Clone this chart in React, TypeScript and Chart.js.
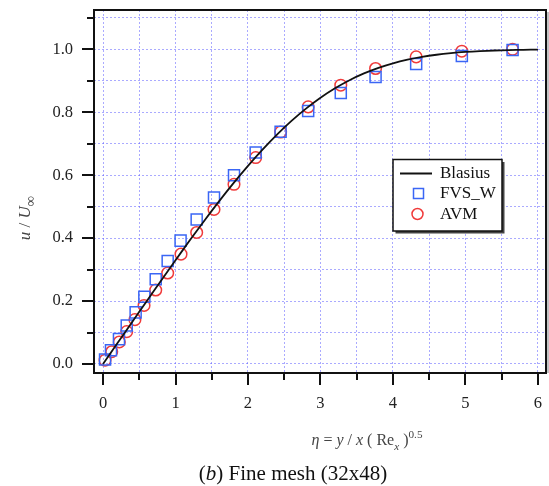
import React, { useEffect, useRef } from 'react';
import { Chart, registerables } from 'chart.js';

Chart.register(...registerables);

// ---- data ----
const blasiusEta = [0, 0.2, 0.4, 0.6, 0.8, 1.0, 1.2, 1.4, 1.6, 1.8, 2.0, 2.2, 2.4, 2.6, 2.8, 3.0, 3.2, 3.4, 3.6, 3.8, 4.0, 4.2, 4.4, 4.6, 4.8, 5.0, 5.2, 5.4, 5.6, 5.8, 6.0];
const blasiusU = [0, 0.06641, 0.13277, 0.19894, 0.26471, 0.32979, 0.39378, 0.45627, 0.51676, 0.57477, 0.62977, 0.68132, 0.72899, 0.77246, 0.81152, 0.84605, 0.87609, 0.90177, 0.92333, 0.94112, 0.95552, 0.96696, 0.97587, 0.98269, 0.98779, 0.99155, 0.99425, 0.99616, 0.99748, 0.99838, 0.99898];

const fvsEta = [0.028, 0.11, 0.22, 0.327, 0.45, 0.57, 0.727, 0.892, 1.07, 1.292, 1.531, 1.807, 2.106, 2.45, 2.83, 3.28, 3.76, 4.32, 4.95, 5.65];
const fvsU = [0.014, 0.044, 0.079, 0.122, 0.164, 0.214, 0.269, 0.327, 0.392, 0.459, 0.529, 0.6, 0.672, 0.738, 0.804, 0.861, 0.912, 0.953, 0.979, 0.998];

const avmEta = [0.028, 0.12, 0.225, 0.327, 0.44, 0.566, 0.727, 0.892, 1.076, 1.292, 1.531, 1.807, 2.106, 2.45, 2.83, 3.28, 3.76, 4.32, 4.95, 5.65];
const avmU = [0.012, 0.039, 0.07, 0.103, 0.141, 0.186, 0.235, 0.289, 0.349, 0.418, 0.491, 0.571, 0.656, 0.737, 0.817, 0.886, 0.939, 0.976, 0.994, 1.0];

const xTickValues = [0, 0.5, 1, 1.5, 2, 2.5, 3, 3.5, 4, 4.5, 5, 5.5, 6];
const xTickLabels = ['0', '', '1', '', '2', '', '3', '', '4', '', '5', '', '6'];
const yTickValues = [0, 0.1, 0.2, 0.3, 0.4, 0.5, 0.6, 0.7, 0.8, 0.9, 1.0, 1.1];
const yTickLabels = ['0.0', '', '0.2', '', '0.4', '', '0.6', '', '0.8', '', '1.0', ''];

const seriesNames = ['Blasius', 'FVS_W', 'AVM'];

const FAMILY = "'Liberation Serif', 'Times New Roman', serif";

type Run = { t: string; it?: boolean; sub?: boolean; sup?: boolean; scale?: number };

function drawRuns(ctx: CanvasRenderingContext2D, runs: Run[], cx: number, baseY: number, size: number, color: string) {
  const sz = (r: Run) => (r.sub || r.sup ? size * (r.scale || 0.7) : size);
  const fontFor = (r: Run) => `${r.it ? 'italic ' : ''}${sz(r)}px ${FAMILY}`;
  let total = 0;
  runs.forEach((r) => {
    ctx.font = fontFor(r);
    total += ctx.measureText(r.t).width;
  });
  let x = cx - total / 2;
  ctx.fillStyle = color;
  ctx.textAlign = 'left';
  ctx.textBaseline = 'alphabetic';
  runs.forEach((r) => {
    ctx.font = fontFor(r);
    const dy = r.sub ? size * 0.3 : r.sup ? -size * 0.45 : 0;
    ctx.fillText(r.t, x, baseY + dy);
    x += ctx.measureText(r.t).width;
  });
}

const decorPlugin = {
  id: 'decor',
  afterDraw(chart: any) {
    const { ctx, chartArea: a, scales } = chart;
    const xs = scales.x;
    const ys = scales.y;
    ctx.save();
    // tick marks
    ctx.strokeStyle = '#111';
    ctx.lineWidth = 2;
    ctx.setLineDash([]);
    xTickValues.forEach((v, i) => {
      const px = Math.round(xs.getPixelForValue(v));
      const len = xTickLabels[i] ? 12 : 7;
      ctx.beginPath();
      ctx.moveTo(px, a.bottom);
      ctx.lineTo(px, a.bottom + len);
      ctx.stroke();
    });
    yTickValues.forEach((v, i) => {
      const py = Math.round(ys.getPixelForValue(v));
      const len = yTickLabels[i] ? 12 : 7;
      ctx.beginPath();
      ctx.moveTo(a.left, py);
      ctx.lineTo(a.left - len, py);
      ctx.stroke();
    });
    // plot frame
    ctx.strokeStyle = '#888';
    ctx.lineWidth = 1;
    ctx.beginPath();
    ctx.moveTo(a.right + 2, a.top + 2);
    ctx.lineTo(a.right + 2, a.bottom);
    ctx.stroke();
    ctx.strokeStyle = '#111';
    ctx.lineWidth = 2;
    ctx.strokeRect(a.left, a.top, a.right - a.left, a.bottom - a.top);

    // legend
    const lx = 393, ly = 159.5, lw = 109, lh = 71.5;
    ctx.fillStyle = '#444';
    ctx.fillRect(lx + 2.5, ly + 2.5, lw, lh);
    ctx.fillStyle = '#fff';
    ctx.fillRect(lx, ly, lw, lh);
    ctx.strokeStyle = '#111';
    ctx.lineWidth = 1.5;
    ctx.strokeRect(lx, ly, lw, lh);
    const ds = chart.data.datasets;
    ctx.strokeStyle = ds[0].borderColor;
    ctx.lineWidth = 2;
    ctx.beginPath();
    ctx.moveTo(400, 173.5);
    ctx.lineTo(432, 173.5);
    ctx.stroke();
    ctx.strokeStyle = ds[1].borderColor;
    ctx.lineWidth = 1.5;
    ctx.strokeRect(413.5, 188.5, 10, 10);
    ctx.strokeStyle = ds[2].borderColor;
    ctx.beginPath();
    ctx.arc(417.5, 214, 5.5, 0, Math.PI * 2);
    ctx.stroke();
    ctx.fillStyle = '#111';
    ctx.font = `17px ${FAMILY}`;
    ctx.textAlign = 'left';
    ctx.textBaseline = 'middle';
    ctx.fillText(seriesNames[0], 440, 173.5);
    ctx.fillText(seriesNames[1], 440, 194);
    ctx.fillText(seriesNames[2], 440, 214.5);

    // x-axis title
    drawRuns(ctx, [
      { t: 'η', it: true },
      { t: ' = ' },
      { t: 'y', it: true },
      { t: ' / ' },
      { t: 'x', it: true },
      { t: ' ( Re' },
      { t: 'x', it: true, sub: true },
      { t: ' )' },
      { t: '0.5', sup: true },
    ], 367, 445, 16, '#444');

    // y-axis title
    ctx.save();
    ctx.translate(24, 218);
    ctx.rotate(-Math.PI / 2);
    drawRuns(ctx, [
      { t: 'u', it: true },
      { t: ' / ' },
      { t: 'U', it: true },
      { t: '∞', sub: true, scale: 0.85 },
    ], 0, 6, 17, '#444');
    ctx.restore();

    // caption
    drawRuns(ctx, [
      { t: '(' },
      { t: 'b', it: true },
      { t: ') Fine mesh (32x48)' },
    ], 293, 480, 21, '#111');
    ctx.restore();
  },
};

export default function App() {
  const ref = useRef<HTMLCanvasElement | null>(null);
  useEffect(() => {
    if (!ref.current) return;
    const gridColor = 'rgba(100,100,255,0.55)';
    const chart = new Chart(ref.current, {
      type: 'scatter',
      data: {
        datasets: [
          {
            label: seriesNames[0],
            data: blasiusEta.map((e, i) => ({ x: e, y: blasiusU[i] })),
            showLine: true,
            borderColor: '#111',
            borderWidth: 1.8,
            pointRadius: 0,
            tension: 0.3,
          },
          {
            label: seriesNames[1],
            data: fvsEta.map((e, i) => ({ x: e, y: fvsU[i] })),
            pointStyle: 'rect',
            pointRadius: 7.8,
            borderColor: '#3a66f5',
            backgroundColor: 'rgba(0,0,0,0)',
            pointBorderWidth: 1.5,
          },
          {
            label: seriesNames[2],
            data: avmEta.map((e, i) => ({ x: e, y: avmU[i] })),
            pointStyle: 'circle',
            pointRadius: 5.8,
            borderColor: '#f03a3a',
            backgroundColor: 'rgba(0,0,0,0)',
            pointBorderWidth: 1.5,
          },
        ],
      } as any,
      options: {
        responsive: false,
        animation: false,
        layout: { autoPadding: false, padding: { left: 0, top: 10, right: 3, bottom: 0 } },
        plugins: { legend: { display: false }, tooltip: { enabled: false } },
        font: { family: FAMILY },
        scales: {
          x: {
            type: 'linear',
            min: -0.1244,
            max: 6.111,
            afterBuildTicks: (s: any) => {
              s.ticks = xTickValues.map((v) => ({ value: v }));
            },
            afterFit: (s: any) => {
              s.height = 113;
              s.paddingLeft = 0;
              s.paddingRight = 0;
              s.paddingTop = 0;
              s.paddingBottom = 0;
            },
            ticks: {
              callback: (_v: any, i: number) => xTickLabels[i],
              autoSkip: false,
              maxRotation: 0,
              padding: 21,
              color: '#222',
              font: { family: FAMILY, size: 16.5 },
            },
            grid: { color: gridColor, lineWidth: 1, drawTicks: false },
            border: { display: false, dash: [2, 2] },
          },
          y: {
            type: 'linear',
            min: -0.0286,
            max: 1.1249,
            afterBuildTicks: (s: any) => {
              s.ticks = yTickValues.map((v) => ({ value: v }));
            },
            afterFit: (s: any) => {
              s.width = 94;
              s.paddingLeft = 0;
              s.paddingRight = 0;
              s.paddingTop = 0;
              s.paddingBottom = 0;
            },
            ticks: {
              callback: (_v: any, i: number) => yTickLabels[i],
              autoSkip: false,
              padding: 21,
              color: '#222',
              font: { family: FAMILY, size: 16.5 },
            },
            grid: { color: gridColor, lineWidth: 1, drawTicks: false },
            border: { display: false, dash: [2, 2] },
          },
        },
      } as any,
      plugins: [decorPlugin],
    });
    return () => chart.destroy();
  }, []);
  return (
    <div style={{ position: 'absolute', left: 0, top: 0, width: 549, height: 486, background: '#fff' }}>
      <canvas ref={ref} width={549} height={486} style={{ display: 'block' }} />
    </div>
  );
}
